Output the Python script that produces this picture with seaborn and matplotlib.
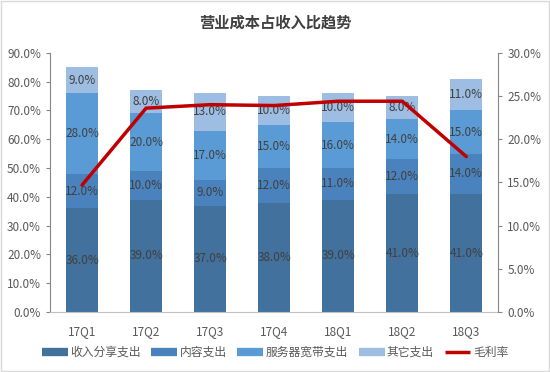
import matplotlib
matplotlib.use("Agg")
import matplotlib.pyplot as plt
import seaborn as sns
import numpy as np
import pandas as pd
from matplotlib.patches import Rectangle
from matplotlib.lines import Line2D

# data
quarters = ["17Q1", "17Q2", "17Q3", "17Q4", "18Q1", "18Q2", "18Q3"]
revenue_share = [36, 39, 37, 38, 39, 41, 41]
content = [12, 10, 9, 12, 11, 12, 14]
server_bw = [28, 20, 17, 15, 16, 14, 15]
other = [9, 8, 13, 10, 10, 8, 11]
gross_margin = [14.7, 23.6, 24.0, 23.9, 24.4, 24.4, 18.0]

series_names = ["收入分享支出", "内容支出", "服务器宽带支出", "其它支出"]
series_vals = [revenue_share, content, server_bw, other]
colors = ["#41719c", "#4a82bd", "#5b9bd5", "#9dbde3"]
line_color = "#c00000"

sns.set_style("white")
plt.rcParams["font.family"] = ["Noto Sans CJK SC", "DejaVu Sans"]

fig = plt.figure(figsize=(5.5, 3.72), dpi=100)
ax = fig.add_axes([0.091, 0.161, 0.815, 0.697])

# stacked bars: draw cumulative totals from top segment down
cum = np.cumsum(np.array(series_vals), axis=0)
for i in range(len(series_vals) - 1, -1, -1):
    df = pd.DataFrame({"q": quarters, "v": cum[i]})
    sns.barplot(data=df, x="q", y="v", color=colors[i], width=0.5,
                saturation=1, linewidth=0, ax=ax, zorder=2)

# segment labels
for i, vals in enumerate(series_vals):
    base = cum[i] - np.array(vals)
    for j, v in enumerate(vals):
        ax.text(j, base[j] + v / 2, f"{v:.1f}%", ha="center", va="center",
                fontsize=8.5, color="#404040", zorder=4)

ax.set_ylim(0, 90)
ax.set_yticks(np.arange(0, 91, 10))
ax.set_yticklabels([f"{t:.1f}%" for t in range(0, 91, 10)])
ax.set_xlim(-0.5, 6.5)
ax.set_xlabel("")
ax.set_ylabel("")

ax2 = ax.twinx()
sns.lineplot(x=np.arange(len(quarters)), y=gross_margin, color=line_color,
             linewidth=2.5, ax=ax2, zorder=5)
ax2.set_ylim(0, 30)
ax2.set_yticks(np.arange(0, 31, 5))
ax2.set_yticklabels([f"{t:.1f}%" for t in range(0, 31, 5)])
ax2.set_xlim(-0.5, 6.5)

for a in (ax, ax2):
    a.spines["top"].set_visible(False)
    a.tick_params(labelsize=8.5, labelcolor="#595959", length=3, color="#868686")
ax.spines["right"].set_visible(False)
ax.spines["left"].set_color("#868686")
ax.spines["bottom"].set_color("#bfbfbf")
ax2.spines["left"].set_visible(False)
ax2.spines["bottom"].set_visible(False)
ax2.spines["right"].set_color("#868686")
ax.tick_params(axis="y", left=True)
ax.tick_params(axis="x", bottom=False, pad=6)
ax2.tick_params(axis="y", right=True)

fig.text(0.5, 0.94, "营业成本占收入比趋势", ha="center", va="center",
         fontsize=11, fontweight="bold", color="#404040")

handles = [Line2D([0], [0], color=c, linewidth=6, solid_capstyle="butt") for c in colors]
handles.append(Line2D([0], [0], color=line_color, linewidth=2.5, solid_capstyle="butt"))
fig.legend(handles, series_names + ["毛利率"], loc="center", ncol=5,
           bbox_to_anchor=(0.5, 0.053), frameon=False, fontsize=8.5,
           handlelength=2.2, handletextpad=0.2, columnspacing=0.9,
           labelcolor="#595959")

fig.patches.append(Rectangle((0.002, 0.003), 0.996, 0.994, transform=fig.transFigure,
                             fill=False, edgecolor="#d9d9d9", linewidth=1))

fig.savefig("out.png", dpi=100)
